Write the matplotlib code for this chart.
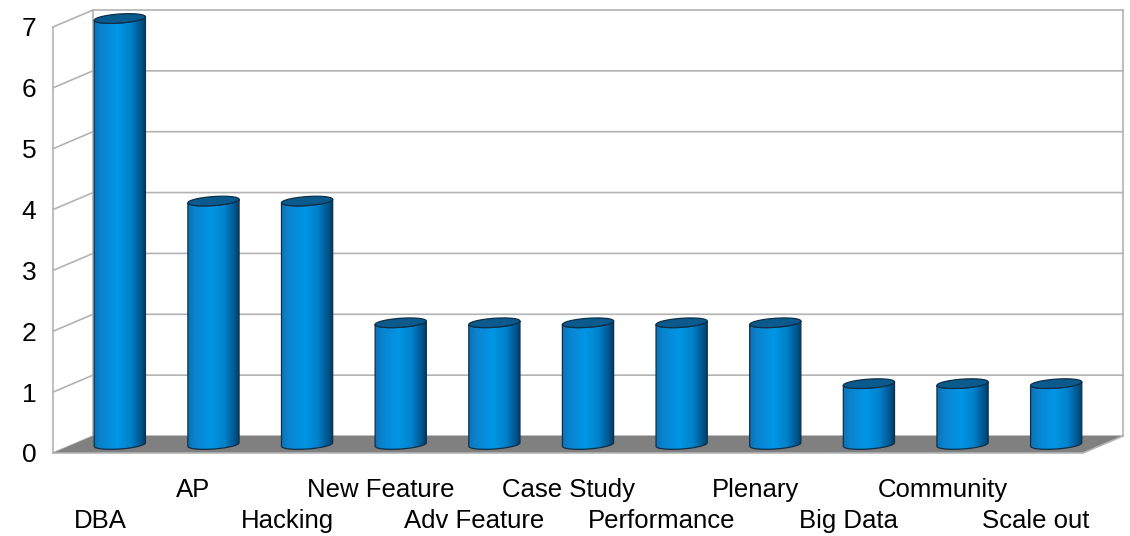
import numpy as np
import matplotlib.pyplot as plt
from matplotlib.patches import Polygon
from matplotlib.colors import LinearSegmentedColormap

categories = ["DBA", "AP", "Hacking", "New Feature", "Adv Feature", "Case Study",
              "Performance", "Plenary", "Big Data", "Community", "Scale out"]
counts = [7, 4, 4, 2, 2, 2, 2, 2, 1, 1, 1]
yticks = [0, 1, 2, 3, 4, 5, 6, 7]

plt.rcParams['font.family'] = ['Liberation Sans', 'DejaVu Sans']

W, H = 1130, 536
fig = plt.figure(figsize=(W / 100, H / 100), dpi=100)

# front plane of the pseudo-3d box, in pixels
x0, x1 = 53, 1083
ybot, ytop = 453, 27
ax = fig.add_axes([x0 / W, 1 - ybot / H, (x1 - x0) / W, (ybot - ytop) / H])
n = len(categories)
ymax = yticks[-1]

px_x = (x1 - x0) / n
px_y = (ybot - ytop) / ymax
ddx = 40 / px_x   # depth offset
ddy = 17 / px_y

grid = '#b3b3b3'
# walls + grid
for v in yticks:
    ax.plot([0, ddx, n + ddx], [v, v + ddy, v + ddy], color=grid, lw=1.2,
            clip_on=False, zorder=1)
ax.plot([0, 0], [0, ymax], color=grid, lw=1.2, clip_on=False, zorder=1)
ax.plot([ddx, ddx], [ddy, ymax + ddy], color=grid, lw=1.2, clip_on=False, zorder=1)
ax.plot([n + ddx, n + ddx], [ddy, ymax + ddy], color=grid, lw=1.2, clip_on=False, zorder=1)

# floor
ax.add_patch(Polygon([(0, 0), (n, 0), (n + ddx, ddy), (ddx, ddy)], closed=True,
                     fc='#808080', ec='none', clip_on=False, zorder=1.5))
ax.plot([0, n, n + ddx], [0, 0, ddy], color=grid, lw=1.2, clip_on=False, zorder=1.6)

# cylinders
cmap = LinearSegmentedColormap.from_list('cyl', [
    (0.0, '#0a74b8'), (0.15, '#0a84d0'), (0.45, '#0096e6'),
    (0.7, '#0082cc'), (0.88, '#005a94'), (1.0, '#003c66')])
grad = np.linspace(0, 1, 256)[np.newaxis, :]
a = 25.6 / px_x
b = 4.5 / px_y
k = (3.5 / px_y) / (2 * a)
t = np.linspace(0, 2 * np.pi, 120)
tf = np.linspace(np.pi, 2 * np.pi, 60)

for i, val in enumerate(counts):
    cx = i + 0.5 + ddx / 2
    base = ddy / 2
    top = val + ddy / 2
    bx = cx + a * np.cos(tf)
    by = base + b * np.sin(tf) + k * a * np.cos(tf)
    tx = cx + a * np.cos(tf[::-1])
    ty = top + b * np.sin(tf[::-1]) + k * a * np.cos(tf[::-1])
    body = Polygon(np.column_stack([np.r_[bx, tx], np.r_[by, ty]]), closed=True,
                   fc='none', ec='#0f2f48', lw=0.9, clip_on=False, zorder=3.1)
    ax.add_patch(body)
    im = ax.imshow(grad, extent=[cx - a, cx + a, base - 2 * b, top + 2 * b],
                   aspect='auto', cmap=cmap, interpolation='bilinear',
                   clip_path=body, zorder=3)
    im.set_clip_box(fig.bbox)
    ax.add_patch(Polygon(np.column_stack([cx + a * np.cos(t),
                                          top + b * np.sin(t) + k * a * np.cos(t)]),
                         closed=True, fc='#0b5a8e', ec='#0f2f48', lw=0.9,
                         clip_on=False, zorder=3.2))

ax.set_xlim(0, n)
ax.set_ylim(0, ymax)
ax.set_frame_on(False)
ax.set_yticks(yticks)
ax.set_yticklabels([str(v) for v in yticks], fontsize=19)
ax.set_xticks(np.arange(n) + 0.5)
ax.set_xticklabels(categories, fontsize=18.5)
ax.tick_params(length=0)
ax.tick_params(axis='y', pad=12)
for i, tick in enumerate(ax.xaxis.get_major_ticks()):
    tick.set_pad(40 if i % 2 == 0 else 18)

fig.savefig('out.png', dpi=100)
